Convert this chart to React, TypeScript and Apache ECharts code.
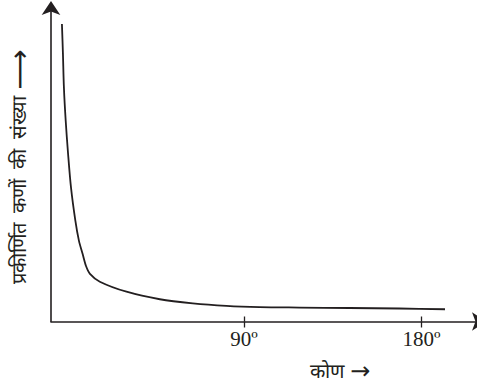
import React, { useEffect, useRef } from "react";
import * as echarts from "echarts";

// angle (degrees) vs number of scattered particles (arbitrary units)
const angles = [-2.2, -1.7, -1.2, -0.3, 0.9, 2.4, 4.6, 6.4, 8.3, 10.0, 12.0, 17.0, 30.5, 47.4, 64.1, 81.1, 97.9, 118.1, 143.4, 168.7, 191.9];
const counts = [94.9, 85.6, 74.7, 64.1, 53.6, 42.7, 32.2, 25.8, 21.5, 17.7, 15.2, 12.7, 9.5, 7.1, 5.8, 5.0, 4.6, 4.45, 4.3, 4.15, 3.9];
const tickValues = [90, 180];
const xNameWord = "कोण";
const yNameWords = "प्रकीर्णित  कणों  की  संख्या";
const arrowShort = "→";
const arrowLong = "⟶";

const ink = "#231f20";
const serif = "'Liberation Serif', 'DejaVu Serif', serif";

export default function App() {
  const ref = useRef<HTMLDivElement>(null);
  useEffect(() => {
    if (!ref.current) return;
    const chart = echarts.init(ref.current, undefined, { renderer: "svg" });
    const data = angles.map((a, i) => [a, counts[i]]);
    chart.setOption({
      animation: false,
      grid: { left: 51, right: -1, top: 8, bottom: 68.5, containLabel: false },
      xAxis: [
        {
          type: "value",
          min: -7.74,
          max: 208.1,
          splitLine: { show: false },
          axisLine: {
            show: true,
            onZero: false,
            lineStyle: { color: ink, width: 1.6 },
            symbol: ["none", "arrow"],
            symbolSize: [14, 14],
            symbolOffset: [0, 9],
          },
          axisTick: { show: true, customValues: tickValues, length: 6, lineStyle: { color: ink, width: 1.3 } },
          axisLabel: {
            show: true,
            customValues: tickValues,
            formatter: (v: number) => v + "º",
            fontFamily: serif,
            fontSize: 21,
            color: ink,
            margin: 7,
          },
        },
        {
          type: "value",
          min: -7.74,
          max: 208.1,
          position: "bottom",
          splitLine: { show: false },
          axisLine: { show: false, onZero: false },
          axisTick: { show: true, inside: true, customValues: tickValues, length: 5, lineStyle: { color: ink, width: 1.3 } },
          axisLabel: { show: false },
        },
      ],
      yAxis: {
        type: "value",
        min: 0,
        max: 100,
        splitLine: { show: false },
        axisTick: { show: false },
        axisLabel: { show: false },
        axisLine: {
          show: true,
          onZero: false,
          lineStyle: { color: ink, width: 1.6 },
          symbol: ["none", "arrow"],
          symbolSize: [14, 14],
          symbolOffset: [0, 7],
        },
      },
      graphic: [
        {
          type: "text",
          x: 340,
          y: 371,
          style: {
            text: "{w|" + xNameWord + "}  {a|" + arrowShort + "}",
            align: "center",
            verticalAlign: "middle",
            rich: {
              w: { fontFamily: serif, fontSize: 20, fill: ink, color: ink },
              a: { fontFamily: "'DejaVu Sans'", fontSize: 24, fill: ink, color: ink },
            },
          },
        },
        {
          type: "text",
          x: 19,
          y: 167,
          rotation: Math.PI / 2,
          style: {
            text: "{w|" + yNameWords + "}  {a|" + arrowLong + "}",
            align: "center",
            verticalAlign: "middle",
            rich: {
              w: { fontFamily: serif, fontSize: 20, fill: ink, color: ink },
              a: { fontFamily: "'DejaVu Sans'", fontSize: 28, fill: ink, color: ink },
            },
          },
        },
      ],
      series: [
        {
          type: "line",
          data,
          showSymbol: false,
          smooth: 0.3,
          lineStyle: { color: ink, width: 1.8 },
        },
      ],
    });
    return () => chart.dispose();
  }, []);
  return <div ref={ref} style={{ position: "absolute", left: 0, top: 0, width: 477, height: 390 }} />;
}
